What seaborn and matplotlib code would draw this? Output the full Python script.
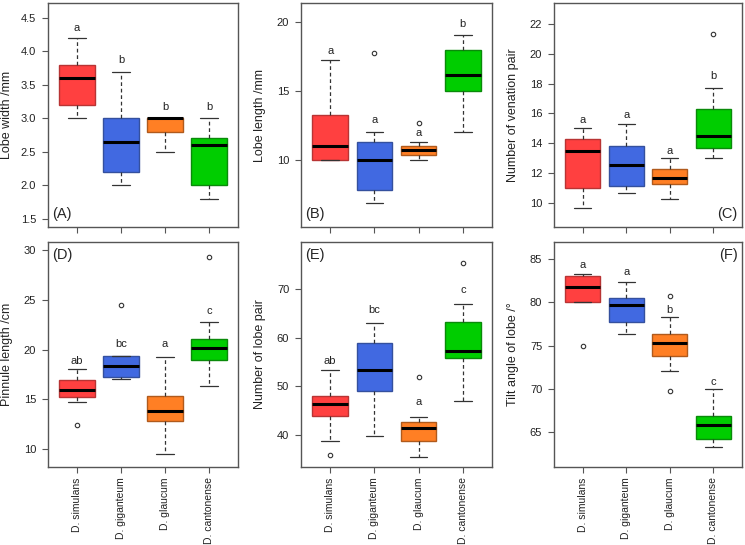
import numpy as np
import matplotlib.pyplot as plt
import seaborn as sns

sns.set_style("white")
plt.rcParams['font.family'] = ['Liberation Sans', 'DejaVu Sans']

species = ['D. simulans', 'D. giganteum', 'D. glaucum', 'D. cantonense']
fills = ['#FF4040', '#4169E1', '#FF7F24', '#00CD00']
edges = ['#B83434', '#34509E', '#B05A1C', '#0A8A0A']

# five-number summaries per species: lower whisker, Q1, median, Q3, upper whisker
lobe_width = [[3.0, 3.2, 3.6, 3.8, 4.2], [2.0, 2.2, 2.65, 3.0, 3.7],
              [2.5, 2.8, 3.0, 3.0, 3.0], [1.8, 2.0, 2.6, 2.7, 3.0]]
lobe_width_fliers = [[], [], [], []]
lobe_width_letters = ['a', 'b', 'b', 'b']
lobe_width_letter_y = [4.35, 3.875, 3.175, 3.175]

lobe_length = [[10.0, 10.0, 11.0, 13.3, 17.3], [6.84, 7.83, 10.0, 11.33, 12.0],
               [10.0, 10.34, 10.73, 11.0, 11.31], [12.0, 15.0, 16.16, 18.0, 19.08]]
lobe_length_fliers = [[], [17.74], [12.72], []]
lobe_length_letters = ['a', 'a', 'a', 'b']
lobe_length_letter_y = [17.93, 12.94, 11.95, 19.88]

venation = [[9.69, 11.01, 13.48, 14.27, 15.01], [10.70, 11.12, 12.52, 13.84, 15.30],
            [10.25, 11.30, 11.69, 12.30, 12.99], [12.99, 13.69, 14.49, 16.29, 17.69]]
venation_fliers = [[], [], [], [21.33]]
venation_letters = ['a', 'a', 'a', 'b']
venation_letter_y = [15.57, 15.91, 13.49, 18.49]

pinnule = [[14.76, 15.23, 15.96, 17.0, 18.07], [17.03, 17.26, 18.36, 19.40, 19.40],
           [9.56, 12.81, 13.85, 15.39, 19.27], [16.40, 18.94, 20.21, 21.02, 22.79]]
pinnule_fliers = [[12.48], [24.50], [], [29.25]]
pinnule_letters = ['ab', 'bc', 'a', 'c']
pinnule_letter_y = [18.87, 20.55, 20.55, 23.90]

lobe_pair = [[38.62, 43.74, 46.32, 48.04, 53.34], [39.7, 48.97, 53.4, 58.9, 63.05],
             [35.4, 38.6, 41.3, 42.6, 43.7], [47.0, 55.69, 57.2, 63.26, 66.97]]
lobe_pair_fliers = [[35.86], [], [51.83], [75.3]]
lobe_pair_letters = ['ab', 'bc', 'a', 'c']
lobe_pair_letter_y = [55.2, 65.66, 46.74, 69.8]

tilt = [[80.0, 80.0, 81.73, 83.03, 83.3], [76.32, 77.7, 79.73, 80.54, 82.3],
        [72.06, 73.75, 75.3, 76.3, 78.27], [63.29, 64.25, 65.82, 66.93, 70.0]]
tilt_fliers = [[75.0], [], [80.77, 69.76], []]
tilt_letters = ['a', 'a', 'b', 'c']
tilt_letter_y = [84.3, 83.5, 79.12, 70.85]

panels = [
    (lobe_width, lobe_width_fliers, lobe_width_letters, lobe_width_letter_y,
     'Lobe width /mm', '(A)', (1.375, 4.725), np.arange(1.5, 4.6, 0.5), '%.1f', 'bl'),
    (lobe_length, lobe_length_fliers, lobe_length_letters, lobe_length_letter_y,
     'Lobe length /mm', '(B)', (5.13, 21.41), [10, 15, 20], '%d', 'bl'),
    (venation, venation_fliers, venation_letters, venation_letter_y,
     'Number of venation pair', '(C)', (8.40, 23.39), np.arange(10, 23, 2), '%d', 'br'),
    (pinnule, pinnule_fliers, pinnule_letters, pinnule_letter_y,
     'Pinnule length /cm', '(D)', (8.23, 30.79), np.arange(10, 31, 5), '%d', 'tl'),
    (lobe_pair, lobe_pair_fliers, lobe_pair_letters, lobe_pair_letter_y,
     'Number of lobe pair', '(E)', (33.3, 79.7), np.arange(40, 71, 10), '%d', 'tl'),
    (tilt, tilt_fliers, tilt_letters, tilt_letter_y,
     'Tilt angle of lobe /°', '(F)', (61.0, 86.94), np.arange(65, 86, 5), '%d', 'tr'),
]

fig = plt.figure(figsize=(7.45, 5.45), dpi=100)
col_left = [48, 301, 554]
col_width = [190, 191, 188]
row_top = [3, 242]
row_height = [224, 225]

frame_col = '#555555'
positions = np.arange(1, len(species) + 1)

for i, (summ, fl, letters, ly, ylabel, tag, ylim, yticks, fmt, corner) in enumerate(panels):
    r, c = divmod(i, 3)
    rect = [col_left[c] / 745, 1 - (row_top[r] + row_height[r]) / 545,
            col_width[c] / 745, row_height[r] / 545]
    ax = fig.add_axes(rect)

    stats = [dict(whislo=s[0], q1=s[1], med=s[2], q3=s[3], whishi=s[4],
                  fliers=f, label=sp) for s, f, sp in zip(summ, fl, species)]
    bp = ax.bxp(stats, positions=positions, widths=0.8, capwidths=0.4,
                patch_artist=True, showfliers=True,
                whiskerprops=dict(color='#333333', lw=0.9, linestyle=(0, (3, 2.2))),
                capprops=dict(color='#333333', lw=0.9),
                medianprops=dict(color='black', lw=2.2, solid_capstyle='butt'),
                flierprops=dict(marker='o', markerfacecolor='none',
                                markeredgecolor='#333333', markersize=3.2,
                                markeredgewidth=0.8))
    for patch, fc, ec in zip(bp['boxes'], fills, edges):
        patch.set_facecolor(fc)
        patch.set_edgecolor(ec)
        patch.set_linewidth(1.0)

    for x, t, y in zip(positions, letters, ly):
        ax.text(x, y, t, ha='center', va='center', fontsize=8, color='#222222')

    ax.set_xlim(0.34, 4.66)
    ax.set_ylim(*ylim)
    ax.set_yticks(yticks)
    ax.set_yticklabels([fmt % v for v in yticks])
    ax.set_xticks(positions)
    if r == 1:
        ax.set_xticklabels(species, rotation=90, va='top', ha='center')
    else:
        ax.set_xticklabels([])

    for sp in ax.spines.values():
        sp.set_visible(True)
        sp.set_color(frame_col)
        sp.set_linewidth(1.0)
    ax.tick_params(axis='both', direction='out', length=4.5, width=0.8,
                   color=frame_col, labelcolor='#222222',
                   left=True, bottom=True)
    ax.tick_params(axis='y', labelsize=8, pad=4)
    ax.tick_params(axis='x', labelsize=7.5, pad=3)
    ax.grid(False)

    ax.set_ylabel(ylabel, fontsize=9, color='#222222')
    ax.yaxis.set_label_coords(-0.185, 0.5)

    if corner == 'bl':
        ax.annotate(tag, xy=(0, 0), xycoords='axes fraction', xytext=(3, 4),
                    textcoords='offset points', ha='left', va='bottom', fontsize=10.5)
    elif corner == 'br':
        ax.annotate(tag, xy=(1, 0), xycoords='axes fraction', xytext=(-3, 4),
                    textcoords='offset points', ha='right', va='bottom', fontsize=10.5)
    elif corner == 'tl':
        ax.annotate(tag, xy=(0, 1), xycoords='axes fraction', xytext=(3, -4),
                    textcoords='offset points', ha='left', va='top', fontsize=10.5)
    else:
        ax.annotate(tag, xy=(1, 1), xycoords='axes fraction', xytext=(-3, -4),
                    textcoords='offset points', ha='right', va='top', fontsize=10.5)

fig.savefig('out.png', dpi=100)
